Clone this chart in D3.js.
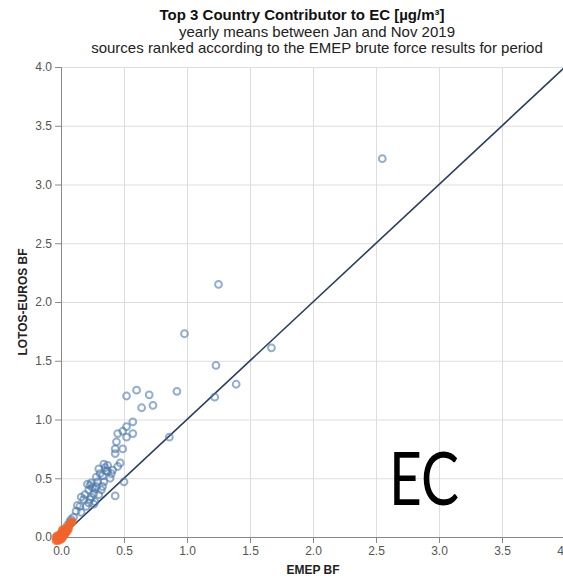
<!DOCTYPE html>
<html>
<head>
<meta charset="utf-8">
<script src="https://cdn.jsdelivr.net/npm/d3@7"></script>
<style>
  body { margin: 0; background: #fff; }
  svg { font-family: "Liberation Sans", Arial, sans-serif; }
  .grid line { stroke: #ddd; }
  .grid .domain { display: none; }
  .axis text { fill: #555; font-size: 12px; }
  .axis line, .axis path { stroke: #888; }
</style>
</head>
<body>
<div id="chart"></div>
<script>
// chart text
var titleText = "Top 3 Country Contributor to EC [µg/m³]";
var subtitleLines = ["yearly means between Jan and Nov 2019",
  "sources ranked according to the EMEP brute force results for period"];
var xTicks = [0, 0.5, 1, 1.5, 2, 2.5, 3, 3.5, 4];
var yTicks = [0, 0.5, 1, 1.5, 2, 2.5, 3, 3.5, 4];

// top 3 contributors: [EMEP BF, LOTOS-EUROS BF]
var topPoints = [
  [2.55, 3.22], [1.25, 2.15], [0.98, 1.73], [1.67, 1.61], [1.23, 1.46],
  [1.39, 1.30], [0.92, 1.24], [1.22, 1.19], [0.60, 1.25], [0.52, 1.20],
  [0.70, 1.21], [0.64, 1.10], [0.73, 1.12], [0.57, 0.98], [0.52, 0.94],
  [0.49, 0.90], [0.45, 0.88], [0.57, 0.88], [0.52, 0.85], [0.86, 0.85],
  [0.44, 0.81], [0.49, 0.75], [0.43, 0.75], [0.43, 0.71], [0.47, 0.63],
  [0.41, 0.57], [0.45, 0.60], [0.37, 0.61], [0.35, 0.59], [0.37, 0.56],
  [0.39, 0.50], [0.50, 0.47], [0.43, 0.35], [0.40, 0.54], [0.31, 0.54],
  [0.28, 0.51], [0.30, 0.58], [0.34, 0.47], [0.24, 0.46], [0.28, 0.43],
  [0.22, 0.40], [0.26, 0.37], [0.32, 0.40], [0.18, 0.32], [0.23, 0.32],
  [0.27, 0.30], [0.15, 0.26], [0.20, 0.26], [0.12, 0.22], [0.10, 0.17],
  [0.07, 0.13], [0.33, 0.52], [0.36, 0.56], [0.25, 0.42], [0.21, 0.45],
  [0.29, 0.47], [0.19, 0.36], [0.24, 0.34], [0.30, 0.36], [0.26, 0.28],
  [0.16, 0.21], [0.08, 0.15], [0.13, 0.27], [0.05, 0.10], [0.34, 0.62],
  [0.16, 0.34], [0.23, 0.44], [0.27, 0.41], [0.22, 0.29], [0.33, 0.43]
];

// remaining sources near the origin
var otherPoints = [
  [-0.03, -0.02], [-0.02, 0.00], [0.00, 0.01], [0.01, 0.02], [0.02, 0.03],
  [0.03, 0.05], [0.04, 0.06], [0.05, 0.08], [0.06, 0.09], [0.07, 0.11],
  [0.08, 0.12], [0.00, 0.03], [-0.01, 0.02], [0.02, 0.01], [-0.03, 0.01],
  [0.01, -0.01], [0.04, 0.04], [0.03, 0.02], [-0.04, -0.03], [0.02, 0.05],
  [-0.02, -0.03], [0.00, -0.02], [0.05, 0.05], [0.03, 0.07], [0.06, 0.07],
  [0.09, 0.13], [-0.04, 0.00], [0.01, 0.06]
];

var svgWidth = 563;
var svgHeight = 576;
var margin = { top: 67, right: -2, bottom: 39, left: 61 };
var width = svgWidth - margin.left - margin.right;
var height = svgHeight - margin.top - margin.bottom;

var svg = d3.select("#chart")
  .append("svg")
  .attr("width", svgWidth)
  .attr("height", svgHeight);

var chartGroup = svg.append("g")
  .attr("transform", `translate(${margin.left}, ${margin.top})`);

var xScale = d3.scaleLinear().domain([0, 4]).range([0, width]);
var yScale = d3.scaleLinear().domain([0, 4]).range([height, 0]);

// grid
chartGroup.append("g")
  .attr("class", "grid")
  .attr("transform", `translate(0, ${height})`)
  .call(d3.axisBottom(xScale).tickValues(xTicks).tickSize(-height).tickFormat(""));
chartGroup.append("g")
  .attr("class", "grid")
  .call(d3.axisLeft(yScale).tickValues(yTicks).tickSize(-width).tickFormat(""));

// axes
chartGroup.append("g")
  .attr("class", "axis")
  .attr("transform", `translate(0, ${height})`)
  .call(d3.axisBottom(xScale).tickValues(xTicks).tickSize(6).tickPadding(3).tickFormat(d3.format(".1f")));
chartGroup.append("g")
  .attr("class", "axis")
  .call(d3.axisLeft(yScale).tickValues(yTicks).tickSize(6).tickPadding(3).tickFormat(d3.format(".1f")));

// 1:1 line
chartGroup.append("line")
  .attr("x1", xScale(0)).attr("y1", yScale(0))
  .attr("x2", xScale(4)).attr("y2", yScale(4))
  .attr("stroke", "#2d3e5c")
  .attr("stroke-width", 1.6);

// points
chartGroup.selectAll(".top")
  .data(topPoints)
  .enter()
  .append("circle")
  .attr("class", "top")
  .attr("cx", d => xScale(d[0]))
  .attr("cy", d => yScale(d[1]))
  .attr("r", 3.4)
  .attr("fill", "none")
  .attr("stroke", "#4c78a8")
  .attr("stroke-width", 2)
  .attr("stroke-opacity", 0.6);

chartGroup.selectAll(".other")
  .data(otherPoints)
  .enter()
  .append("circle")
  .attr("class", "other")
  .attr("cx", d => xScale(d[0]))
  .attr("cy", d => yScale(d[1]))
  .attr("r", 3.4)
  .attr("fill", "#f0642c")
  .attr("fill-opacity", 0.5)
  .attr("stroke", "#f0642c")
  .attr("stroke-width", 2)
  .attr("stroke-opacity", 0.75);

// axis titles
svg.append("text")
  .attr("x", margin.left + xScale(2))
  .attr("y", 574)
  .attr("text-anchor", "middle")
  .attr("font-size", 12)
  .attr("font-weight", "bold")
  .attr("fill", "#222")
  .text("EMEP BF");

svg.append("text")
  .attr("transform", `translate(27, ${margin.top + yScale(2)}) rotate(-90)`)
  .attr("text-anchor", "middle")
  .attr("font-size", 12)
  .attr("font-weight", "bold")
  .attr("fill", "#222")
  .text("LOTOS-EUROS BF");

// title and subtitle
svg.append("text")
  .attr("x", 302)
  .attr("y", 20)
  .attr("text-anchor", "middle")
  .attr("font-size", 15)
  .attr("font-weight", "bold")
  .attr("fill", "#111")
  .text(titleText);

svg.selectAll(".subtitle")
  .data(subtitleLines)
  .enter()
  .append("text")
  .attr("class", "subtitle")
  .attr("x", 317)
  .attr("y", (d, i) => 37 + i * 16)
  .attr("text-anchor", "middle")
  .attr("font-size", 15)
  .attr("fill", "#222")
  .text(d => d);

// big label
svg.append("text")
  .attr("x", 389)
  .attr("y", 505)
  .attr("font-family", "Lato, 'Open Sans', sans-serif")
  .attr("font-size", 74)
  .attr("textLength", 70)
  .attr("lengthAdjust", "spacingAndGlyphs")
  .attr("fill", "#000")
  .text("EC");
</script>
</body>
</html>
